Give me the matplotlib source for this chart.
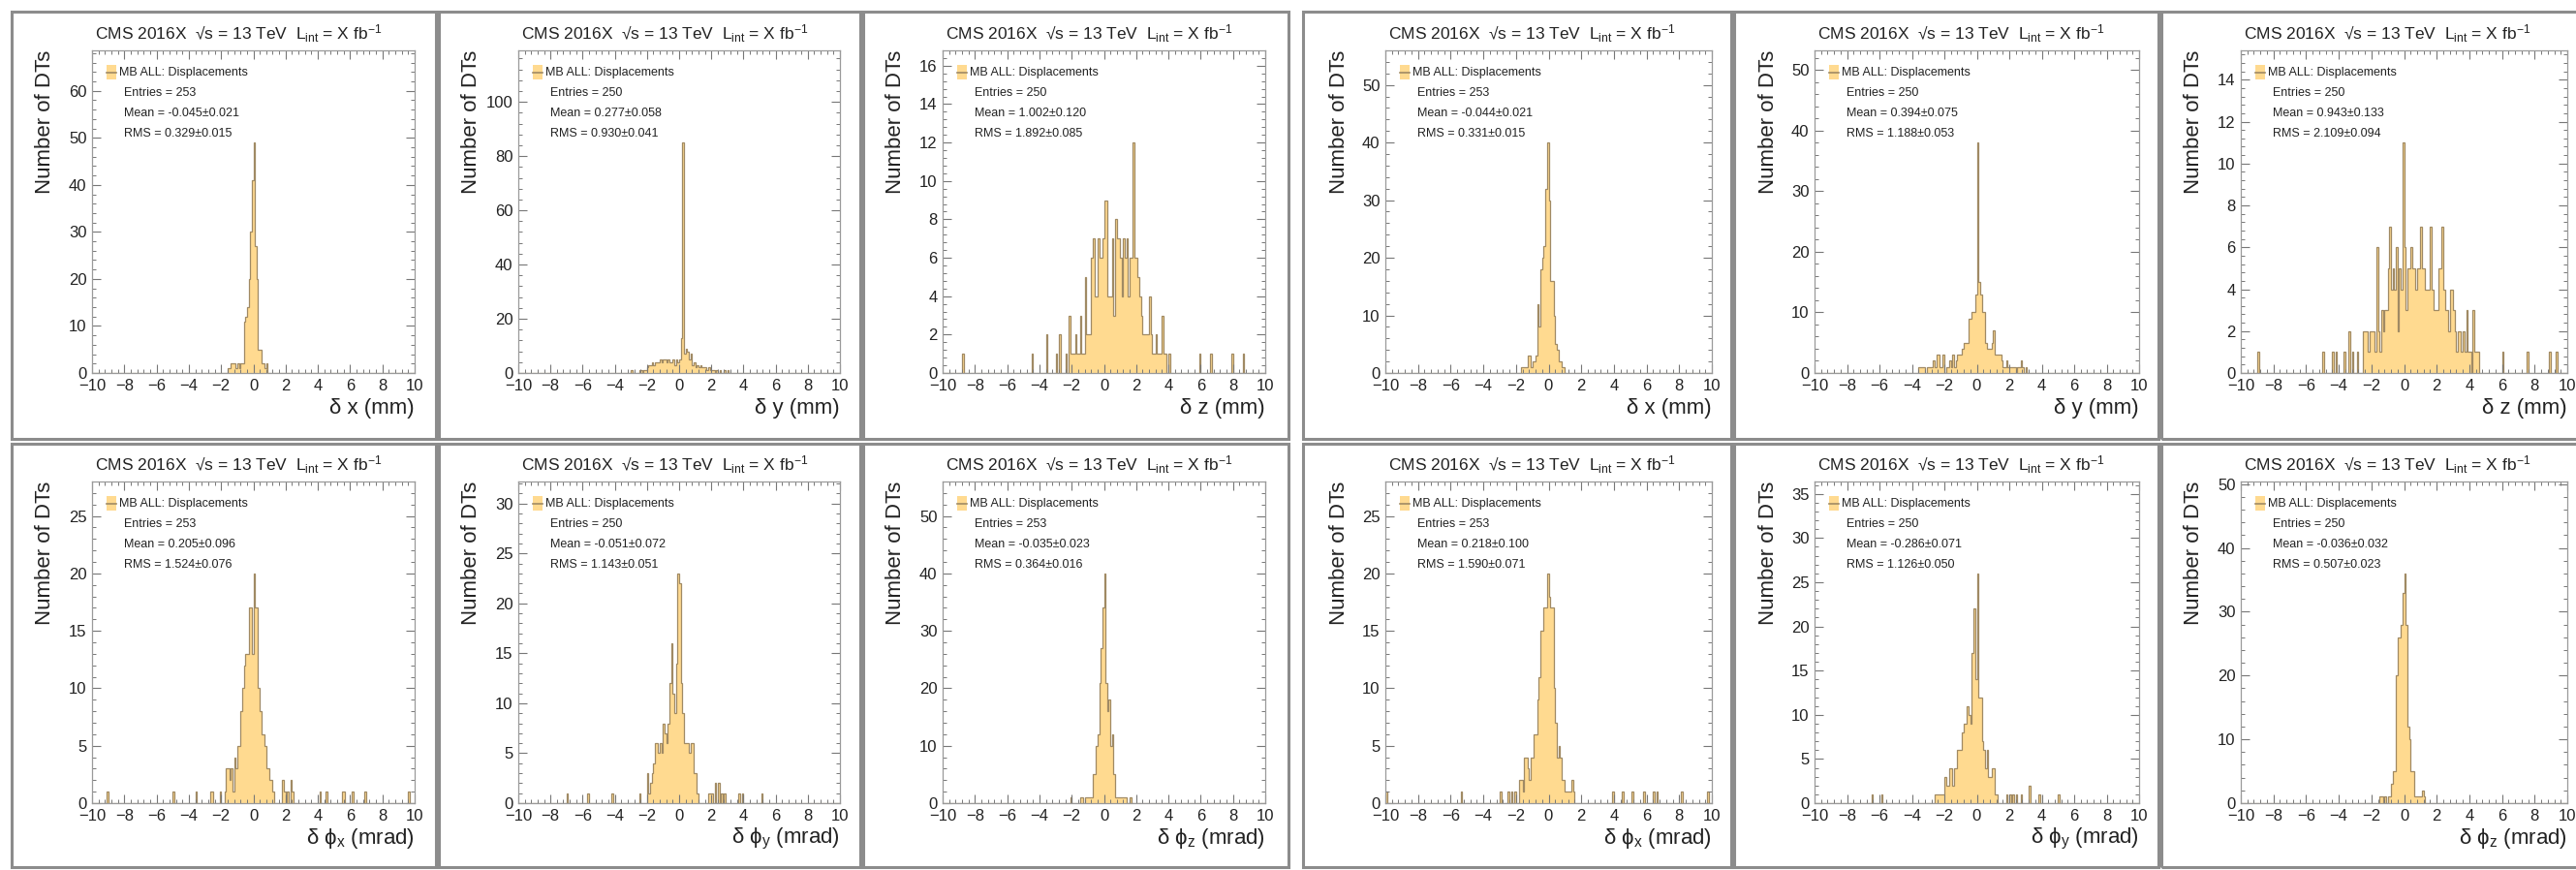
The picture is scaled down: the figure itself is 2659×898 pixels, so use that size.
import numpy as np
import matplotlib
matplotlib.use("Agg")
import matplotlib.pyplot as plt
from matplotlib.patches import Rectangle
from matplotlib.lines import Line2D
from matplotlib.ticker import MultipleLocator

plt.rcParams["font.family"] = ["Liberation Sans", "DejaVu Sans"]
plt.rcParams["mathtext.fontset"] = "custom"
plt.rcParams["mathtext.rm"] = "Liberation Sans"
plt.rcParams["mathtext.it"] = "Liberation Sans:italic"
plt.rcParams["mathtext.bf"] = "Liberation Sans:bold"

W, H = 2659, 898
N_BINS, X_LO, X_HI = 200, -10.0, 10.0
BIN_W = (X_HI - X_LO) / N_BINS

FILL = "#ffda90"
EDGE = "#a08a64"
TEXT = "#222222"
AXC = "#9a9a9a"

# ---- first set of DT displacements ----
lx_start = -1.6
lx_core = [1, 1, 2, 2, 2, 1, 2, 1, 2, 2, 11, 12, 14, 20, 30, 41, 49, 27, 20, 5,
           5, 2, 2, 1, 2]
lx_tail_lo, lx_tail_n = [], []
lx_stats = ["Entries = 253", "Mean = -0.045\u00b10.021", "RMS = 0.329\u00b10.015"]

ly_start = -3.0
ly_core = [1, 0, 0, 0, 0, 1, 1, 0, 1, 1, 2, 3, 3, 4, 3, 4, 4, 4, 5, 4,
           5, 5, 4, 5, 4, 4, 5, 3, 5, 4, 5, 13, 85, 7, 9, 8, 5, 7, 3, 4,
           2, 3, 2, 3, 2, 2, 2, 1, 2, 1, 1, 1, 0, 1, 0, 1, 0, 0, 1, 0, 1]
ly_tail_lo, ly_tail_n = [], []
ly_stats = ["Entries = 250", "Mean = 0.277\u00b10.058", "RMS = 0.930\u00b10.041"]

lz_start = -2.4
lz_core = [1, 0, 3, 1, 1, 1, 2, 1, 1, 3, 1, 1, 5, 2, 2, 2, 6, 7, 4, 4,
           7, 6, 6, 7, 9, 9, 4, 4, 4, 7, 3, 8, 7, 7, 6, 4, 7, 6, 7, 4,
           6, 6, 12, 6, 6, 5, 4, 3, 2, 2, 2, 2, 4, 2, 1, 1, 2, 1, 1, 1,
           3, 1, 1, 0, 1]
lz_tail_lo = [-8.8, -4.5, -3.6, -3.0, -2.8, 5.9, 6.6, 7.9, 8.6]
lz_tail_n = [1, 1, 2, 1, 2, 1, 1, 1, 1]
lz_stats = ["Entries = 250", "Mean = 1.002\u00b10.120", "RMS = 1.892\u00b10.085"]

lpx_start = -1.8
lpx_core = [1, 3, 3, 2, 3, 1, 4, 3, 5, 5, 8, 10, 12, 13, 13, 17, 17, 13, 20, 17,
            17, 10, 8, 6, 6, 5, 3, 3, 2, 2, 1]
lpx_tail_lo = [-9.1, -5.0, -3.6, -2.7, -2.6, -2.1, 1.8, 1.9, 2.1, 2.3, 2.4,
               4.1, 4.5, 5.5, 5.6, 6.1, 6.9, 9.6]
lpx_tail_n = [1, 1, 1, 1, 1, 1, 2, 1, 1, 2, 1, 1, 1, 1, 1, 1, 1, 1]
lpx_stats = ["Entries = 253", "Mean = 0.205\u00b10.096", "RMS = 1.524\u00b10.076"]

lpy_start = -2.0
lpy_core = [3, 1, 2, 3, 4, 6, 6, 5, 6, 5, 8, 7, 6, 8, 12, 16, 11, 9, 14, 23,
            22, 12, 9, 6, 6, 6, 5, 6, 6, 3, 3, 1]
lpy_tail_lo = [-7.0, -5.7, -4.2, -2.5, 1.8, 1.9, 2.0, 2.2, 2.4, 2.6, 2.8, 3.7, 3.9, 5.1]
lpy_tail_n = [1, 1, 1, 1, 1, 1, 1, 2, 2, 1, 1, 1, 1, 1]
lpy_stats = ["Entries = 250", "Mean = -0.051\u00b10.072", "RMS = 1.143\u00b10.051"]

lpz_start = -1.5
lpz_core = [1, 1, 0, 1, 1, 1, 1, 1, 5, 5, 10, 12, 21, 27, 34, 40, 21, 16, 18, 10,
            12, 5, 1, 1, 1, 1, 1, 1, 1]
lpz_tail_lo = [-2.1, 1.6]
lpz_tail_n = [1, 1]
lpz_stats = ["Entries = 253", "Mean = -0.035\u00b10.023", "RMS = 0.364\u00b10.016"]

# ---- second set of DT displacements ----
rx_start = -1.7
rx_core = [1, 1, 1, 1, 3, 3, 1, 2, 2, 3, 12, 8, 18, 20, 22, 32, 40, 30, 16, 16,
           10, 5, 4, 2, 2, 1, 1]
rx_tail_lo, rx_tail_n = [], []
rx_stats = ["Entries = 253", "Mean = -0.044\u00b10.021", "RMS = 0.331\u00b10.015"]

ry_start = -3.6
ry_core = [1, 1, 1, 1, 0, 1, 1, 1, 1, 2, 1, 3, 3, 1, 1, 3, 0, 1, 1, 2,
           1, 3, 1, 2, 3, 3, 3, 4, 5, 5, 5, 9, 9, 10, 10, 13, 38, 15, 13, 10,
           10, 5, 4, 4, 4, 5, 7, 3, 3, 3, 3, 2, 1, 1, 2, 1, 1, 1, 1, 1,
           0, 1, 1, 2, 1, 0, 1]
ry_tail_lo, ry_tail_n = [], []
ry_stats = ["Entries = 250", "Mean = 0.394\u00b10.075", "RMS = 1.188\u00b10.053"]

rz_start = -2.5
rz_core = [2, 2, 2, 1, 2, 2, 2, 1, 6, 2, 1, 3, 2, 3, 3, 5, 7, 4, 5, 4,
           6, 2, 5, 4, 11, 6, 3, 5, 5, 6, 5, 5, 4, 5, 5, 7, 5, 5, 4, 4,
           4, 7, 4, 3, 3, 3, 5, 5, 7, 4, 3, 3, 2, 4, 4, 3, 2, 1, 2, 2,
           1, 2, 1, 3, 1, 1, 0, 3, 1, 1, 1]
rz_tail_lo = [-9.0, -5.0, -4.4, -4.2, -3.7, -3.4, -3.2, -2.9, 6.0, 7.5, 8.9, 9.3]
rz_tail_n = [1, 1, 1, 1, 1, 2, 1, 1, 1, 1, 1, 1]
rz_stats = ["Entries = 250", "Mean = 0.943\u00b10.133", "RMS = 2.109\u00b10.094"]

rpx_start = -1.8
rpx_core = [2, 2, 1, 4, 4, 3, 2, 4, 4, 6, 6, 9, 11, 15, 15, 17, 17, 20, 18, 17,
            17, 10, 7, 4, 5, 4, 2, 2, 1, 1, 1, 1, 2, 1]
rpx_tail_lo = [-10.0, -5.4, -3.0, -2.5, -2.3, -2.1, 3.9, 4.5, 5.1, 5.8, 6.4, 6.6, 8.1, 9.7]
rpx_tail_n = [1] * 14
rpx_stats = ["Entries = 253", "Mean = 0.218\u00b10.100", "RMS = 1.590\u00b10.071"]

rpy_start = -2.6
rpy_core = [1, 1, 1, 1, 1, 1, 3, 2, 2, 4, 4, 2, 4, 4, 6, 6, 6, 8, 9, 9,
            11, 10, 9, 17, 22, 14, 26, 12, 12, 7, 6, 4, 6, 3, 3, 4, 4, 1, 1]
rpy_tail_lo = [-6.5, -5.9, 1.8, 2.0, 2.2, 2.4, 2.7, 3.2, 3.8, 5.0]
rpy_tail_n = [1, 1, 1, 1, 1, 1, 1, 2, 1, 1]
rpy_stats = ["Entries = 250", "Mean = -0.286\u00b10.071", "RMS = 1.126\u00b10.050"]

rpz_start = -1.5
rpz_core = [1, 1, 0, 1, 0, 1, 1, 3, 5, 5, 20, 26, 26, 28, 33, 36, 28, 12, 10, 5,
            5, 1, 1, 1, 1, 1, 2, 1]
rpz_tail_lo, rpz_tail_n = [], []
rpz_stats = ["Entries = 250", "Mean = -0.036\u00b10.032", "RMS = 0.507\u00b10.023"]

XLABELS = ["\u03b4 x (mm)", "\u03b4 y (mm)", "\u03b4 z (mm)",
           "\u03b4 \u03d5$_{\\mathrm{x}}$ (mrad)", "\u03b4 \u03d5$_{\\mathrm{y}}$ (mrad)",
           "\u03b4 \u03d5$_{\\mathrm{z}}$ (mrad)"]
Y_STEPS_L = [10, 20, 2, 5, 5, 10]
Y_STEPS_R = [10, 10, 2, 5, 5, 10]
TITLE = "CMS 2016X  \u221as = 13 TeV  L$_{\\mathrm{int}}$ = X fb$^{-1}$"
LEGEND_TXT = "MB ALL: Displacements"

# canvas borders (pixels) and plot frames inside them
CANVAS_X = [(12, 450), (453, 888), (891, 1330), (1345, 1787), (1790, 2228), (2231, 2680)]
CANVAS_Y = [(12, 453), (458, 895)]
FRAME_X = [(95, 428), (535, 867), (973, 1306), (1430, 1767), (1873, 2208), (2313, 2650)]
FRAME_Y = [(52, 385), (497, 829)]


def hist_counts(start, core, tail_lo, tail_n):
    h = np.zeros(N_BINS)
    i0 = int(round((start - X_LO) / BIN_W))
    h[i0:i0 + len(core)] += np.asarray(core, dtype=float)
    for lo, n in zip(tail_lo, tail_n):
        h[int(round((lo - X_LO) / BIN_W))] += n
    return h


def fx(px):
    return px / W


def fy(py):
    return 1.0 - py / H


def draw_panel(fig, col, row, counts, stats, xlabel, ystep):
    x0, x1 = FRAME_X[col]
    y0, y1 = FRAME_Y[row]
    fw, fh = x1 - x0, y1 - y0
    ax = fig.add_axes([fx(x0), fy(y1), fw / W, fh / H])

    edges = np.linspace(X_LO, X_HI, N_BINS + 1)
    ax.stairs(counts, edges, fill=True, color=FILL, lw=0)
    ax.stairs(counts, edges, color=EDGE, lw=0.9)

    ax.set_xlim(X_LO, X_HI)
    ax.set_ylim(0, 1.4 * counts.max())
    ax.xaxis.set_major_locator(MultipleLocator(2))
    ax.xaxis.set_minor_locator(MultipleLocator(0.4))
    ax.yaxis.set_major_locator(MultipleLocator(ystep))
    ax.yaxis.set_minor_locator(MultipleLocator(ystep / 5))
    ax.tick_params(which="both", direction="in", top=True, right=True,
                   colors="#777777", labelcolor=TEXT, labelsize=12)
    ax.tick_params(which="major", length=6.5, width=0.8, pad=4)
    ax.tick_params(which="minor", length=3.2, width=0.7)
    for sp in ax.spines.values():
        sp.set_color(AXC)
        sp.set_linewidth(0.9)

    # legend entry and statistics box
    ax.add_patch(Rectangle((15 / fw, 1 - 30 / fh), 10 / fw, 15 / fh,
                           transform=ax.transAxes, facecolor=FILL, edgecolor="none"))
    ax.add_line(Line2D([15 / fw, 25 / fw], [1 - 23 / fh, 1 - 23 / fh],
                       transform=ax.transAxes, color=EDGE, lw=1.2))
    ax.text(28 / fw, 1 - 23 / fh, LEGEND_TXT, transform=ax.transAxes,
            ha="left", va="center", fontsize=9, color=TEXT)
    for k, s in enumerate(stats):
        ax.text(33 / fw, 1 - (44 + 21 * k) / fh, s, transform=ax.transAxes,
                ha="left", va="center", fontsize=9, color=TEXT)

    fig.text(fx(x0 + 3), fy(y0 - 17), TITLE, ha="left", va="center",
             fontsize=12.5, color=TEXT)
    fig.text(fx(x0 - 48), fy(y0), "Number of DTs", rotation=90, ha="center",
             va="top", fontsize=16, color=TEXT)
    fig.text(fx(x1), fy(y1 + 37), xlabel, ha="right", va="center",
             fontsize=16, color=TEXT)
    return ax


fig = plt.figure(figsize=(W / 100, H / 100), dpi=100)

for (cx0, cx1) in CANVAS_X:
    for (cy0, cy1) in CANVAS_Y:
        fig.patches.append(Rectangle((fx(cx0), fy(cy1)), (cx1 - cx0) / W, (cy1 - cy0) / H,
                                     transform=fig.transFigure, fill=False,
                                     edgecolor="#8c8c8c", lw=2.2))

left_set = [
    (lx_start, lx_core, lx_tail_lo, lx_tail_n, lx_stats),
    (ly_start, ly_core, ly_tail_lo, ly_tail_n, ly_stats),
    (lz_start, lz_core, lz_tail_lo, lz_tail_n, lz_stats),
    (lpx_start, lpx_core, lpx_tail_lo, lpx_tail_n, lpx_stats),
    (lpy_start, lpy_core, lpy_tail_lo, lpy_tail_n, lpy_stats),
    (lpz_start, lpz_core, lpz_tail_lo, lpz_tail_n, lpz_stats),
]
right_set = [
    (rx_start, rx_core, rx_tail_lo, rx_tail_n, rx_stats),
    (ry_start, ry_core, ry_tail_lo, ry_tail_n, ry_stats),
    (rz_start, rz_core, rz_tail_lo, rz_tail_n, rz_stats),
    (rpx_start, rpx_core, rpx_tail_lo, rpx_tail_n, rpx_stats),
    (rpy_start, rpy_core, rpy_tail_lo, rpy_tail_n, rpy_stats),
    (rpz_start, rpz_core, rpz_tail_lo, rpz_tail_n, rpz_stats),
]

for g, (dataset, steps) in enumerate([(left_set, Y_STEPS_L), (right_set, Y_STEPS_R)]):
    for i, (start, core, tlo, tn, stats) in enumerate(dataset):
        row, col = divmod(i, 3)
        h = hist_counts(start, core, tlo, tn)
        draw_panel(fig, 3 * g + col, row, h, stats, XLABELS[i], steps[i])

fig.savefig("out.png", dpi=100)
